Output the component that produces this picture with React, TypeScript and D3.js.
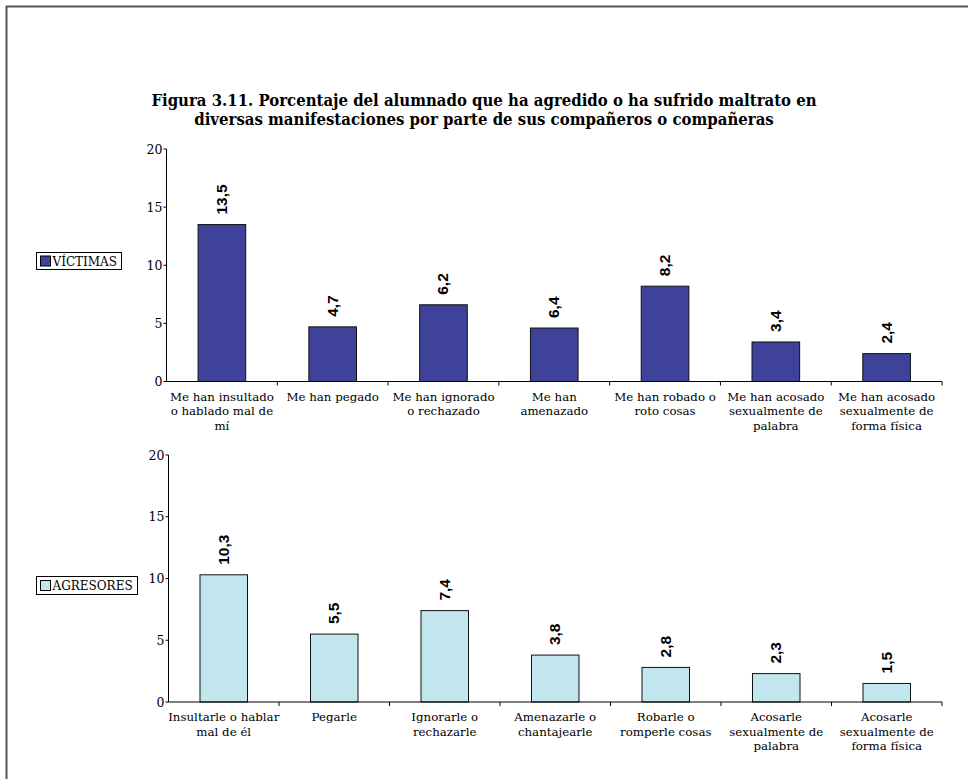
import React, { useEffect, useRef } from 'react';
import * as d3 from 'd3';

// bar heights as drawn (two labels in the source do not match their bars)
const victimValues = [13.5, 4.7, 6.6, 4.6, 8.2, 3.4, 2.4];
const victimLabels = ['13,5', '4,7', '6,2', '6,4', '8,2', '3,4', '2,4'];
const victimCats = [
  ['Me han insultado', 'o hablado mal de', 'mí'],
  ['Me han pegado'],
  ['Me han ignorado', 'o rechazado'],
  ['Me han', 'amenazado'],
  ['Me han robado o', 'roto cosas'],
  ['Me han acosado', 'sexualmente de', 'palabra'],
  ['Me han acosado', 'sexualmente de', 'forma física'],
];

const aggressorValues = [10.3, 5.5, 7.4, 3.8, 2.8, 2.3, 1.5];
const aggressorLabels = ['10,3', '5,5', '7,4', '3,8', '2,8', '2,3', '1,5'];
const aggressorCats = [
  ['Insultarle o hablar', 'mal de él'],
  ['Pegarle'],
  ['Ignorarle o', 'rechazarle'],
  ['Amenazarle o', 'chantajearle'],
  ['Robarle o', 'romperle cosas'],
  ['Acosarle', 'sexualmente de', 'palabra'],
  ['Acosarle', 'sexualmente de', 'forma física'],
];

const yTicks = [0, 5, 10, 15, 20];
const titleLines = [
  'Figura 3.11. Porcentaje del alumnado que ha agredido o ha sufrido maltrato en',
  'diversas manifestaciones por parte de sus compañeros o compañeras',
];

const SERIF = '"DejaVu Serif", serif';
const SANS = '"Liberation Sans", Arial, sans-serif';

export default function App() {
  const svgRef = useRef<SVGSVGElement>(null);

  useEffect(() => {
    if (!svgRef.current) return;
    const svg = d3.select(svgRef.current);
    svg.selectAll('*').remove();

    // frame (left and top only)
    svg.append('line').attr('x1', 6.5).attr('x2', 6.5).attr('y1', 6).attr('y2', 779).attr('stroke', '#555').attr('stroke-width', 2);
    svg.append('line').attr('x1', 6).attr('x2', 968).attr('y1', 6.5).attr('y2', 6.5).attr('stroke', '#555').attr('stroke-width', 2);

    // title
    svg.append('g').selectAll('text')
      .data(titleLines)
      .enter()
      .append('text')
      .attr('x', 484)
      .attr('y', (d, i) => 106 + i * 18.5)
      .attr('text-anchor', 'middle')
      .style('font-family', '"DejaVu Serif Condensed", "DejaVu Serif", serif')
      .style('font-stretch', 'condensed')
      .style('font-weight', 'bold')
      .style('font-size', '16.6px')
      .text(d => d);

    const drawPanel = (
      values: number[], labels: string[], cats: string[][],
      x0: number, x1: number, yTop: number, yBottom: number,
      color: string, legend: string, legendBox: { x: number; y: number; w: number; h: number },
    ) => {
      const g = svg.append('g');
      const x = d3.scaleBand<number>().domain(d3.range(values.length)).range([x0, x1]).paddingInner(0.57).paddingOuter(0.285);
      const xb = d3.scaleBand<number>().domain(d3.range(values.length)).range([x0, x1]).padding(0);
      const y = d3.scaleLinear().domain([0, 20]).range([yBottom, yTop]);

      // bars
      g.selectAll('rect.bar')
        .data(values)
        .enter()
        .append('rect')
        .attr('x', (d, i) => x(i)!)
        .attr('y', d => y(d))
        .attr('width', x.bandwidth())
        .attr('height', d => y(0) - y(d))
        .attr('fill', color)
        .attr('stroke', '#111')
        .attr('stroke-width', 1);

      // value labels
      g.selectAll('text.val')
        .data(values)
        .enter()
        .append('text')
        .attr('transform', (d, i) => `translate(${x(i)! + x.bandwidth() / 2 + 5}, ${y(d) - 10}) rotate(-90)`)
        .style('font-family', SANS)
        .style('font-weight', 'bold')
        .style('font-size', '15.5px')
        .text((d, i) => labels[i]);

      // axes
      g.append('line').attr('x1', x0).attr('x2', x0).attr('y1', yTop).attr('y2', yBottom).attr('stroke', '#000');
      g.append('line').attr('x1', x0).attr('x2', x1).attr('y1', yBottom).attr('y2', yBottom).attr('stroke', '#000');

      yTicks.forEach(t => {
        g.append('line').attr('x1', x0 - 3).attr('x2', x0).attr('y1', y(t)).attr('y2', y(t)).attr('stroke', '#000');
        g.append('text')
          .attr('x', x0 - 4)
          .attr('y', y(t) + 4.5)
          .attr('text-anchor', 'end')
          .style('font-family', SERIF)
          .style('font-size', '12.5px')
          .text(t);
      });

      const bounds = d3.range(values.length + 1).map(i => (i < values.length ? xb(i)! : x1));
      bounds.slice(1).forEach(b => {
        g.append('line').attr('x1', b).attr('x2', b).attr('y1', yBottom).attr('y2', yBottom + 4).attr('stroke', '#000');
      });

      // category labels
      cats.forEach((lines, i) => {
        const cx = xb(i)! + xb.bandwidth() / 2;
        lines.forEach((ln, j) => {
          g.append('text')
            .attr('x', cx)
            .attr('y', yBottom + 19 + j * 14.5)
            .attr('text-anchor', 'middle')
            .style('font-family', SERIF)
            .style('font-size', '11.8px')
            .text(ln);
        });
      });

      // legend
      g.append('rect').attr('x', legendBox.x).attr('y', legendBox.y).attr('width', legendBox.w).attr('height', legendBox.h)
        .attr('fill', '#fff').attr('stroke', '#000');
      g.append('rect').attr('x', legendBox.x + 4).attr('y', legendBox.y + (legendBox.h - 10) / 2).attr('width', 10).attr('height', 10)
        .attr('fill', color).attr('stroke', '#000');
      g.append('text')
        .attr('x', legendBox.x + 16)
        .attr('y', legendBox.y + legendBox.h / 2 + 4.5)
        .style('font-family', SERIF)
        .style('font-size', '12px')
        .text(legend);
    };

    drawPanel(victimValues, victimLabels, victimCats, 166.5, 942, 149, 381.5, '#3e4399', 'VÍCTIMAS', { x: 36.5, y: 252.5, w: 85, h: 17 });
    drawPanel(aggressorValues, aggressorLabels, aggressorCats, 168.5, 942, 455, 702, '#c2e6ee', 'AGRESORES', { x: 36.5, y: 576.5, w: 101, h: 18 });
  }, []);

  return (
    <svg
      ref={svgRef}
      width={968}
      height={779}
      style={{ position: 'absolute', left: 0, top: 0, background: '#fff' }}
    />
  );
}
